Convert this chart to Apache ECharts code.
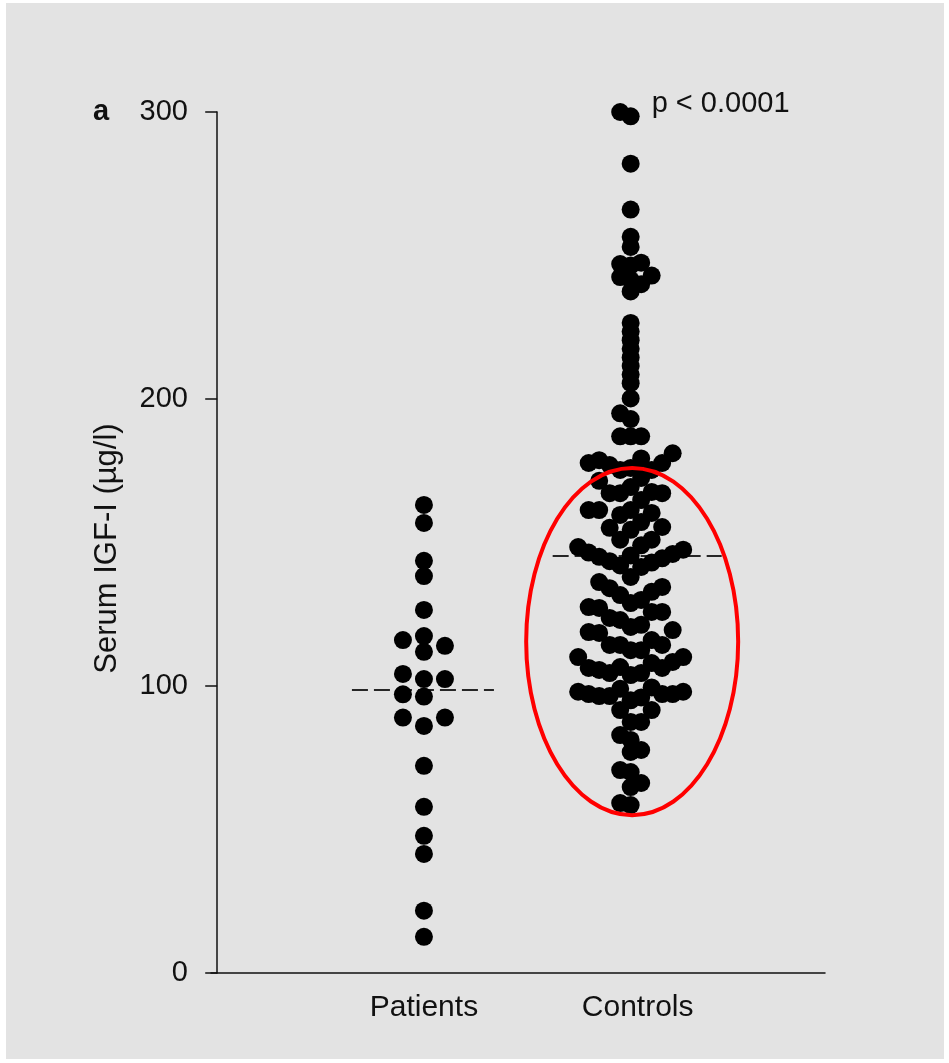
<!DOCTYPE html>
<html>
<head>
<meta charset="utf-8">
<script src="https://cdn.jsdelivr.net/npm/echarts@6.0.0/dist/echarts.min.js"></script>
<style>
  html, body { margin: 0; padding: 0; background: #ffffff; }
  #chart { width: 949px; height: 1063px; }
</style>
</head>
<body>
<div id="chart"></div>
<script>
// ---- data -------------------------------------------------------------
const groups = ['Patients', 'Controls'];
const groupPositions = [1, 2];

// Serum IGF-I, µg/l
const patients = [
  163.1, 156.8, 143.6, 138.3, 126.5, 117.4, 116.0, 114.0, 111.9,
  104.2, 102.4, 102.4, 97.1, 96.3, 89.0, 89.0, 86.1,
  72.2, 57.9, 47.8, 41.5, 21.7, 12.6
];

const controls = [
  300.0, 298.5, 282.0, 266.0, 256.5, 253.0,
  247.5, 247.0, 246.5, 243.0, 242.5, 241.5, 240.0, 237.5,
  226.5, 223.5, 220.5, 217.5, 214.5, 211.5, 208.5, 205.5,
  200.2, 195.0, 193.0, 187.0, 187.0, 187.0,
  181.1, 179.3, 178.7, 177.7, 177.7, 177.0, 176.0, 175.3, 175.3, 172.5, 171.5,
  169.3, 167.6, 167.2, 167.2, 167.2, 164.8,
  161.3, 161.3, 161.3, 160.3, 159.6,
  157.1, 155.4, 155.1, 154.4,
  151.0, 151.0, 149.0, 148.4, 147.5, 146.5, 146.0, 145.5, 145.0, 144.5, 143.5, 143.0, 142.0, 141.5,
  138.0,
  136.2, 134.5, 134.1, 132.8, 131.7, 130.0, 128.9,
  127.5, 127.2, 125.8, 125.8, 123.7, 123.0, 121.3, 120.6, 119.5, 118.8, 118.5,
  116.0, 114.3, 114.3, 114.3, 112.5, 112.5, 110.1, 110.1, 108.4, 108.0,
  106.6, 106.3, 106.3, 105.6, 104.5, 104.5, 103.8,
  99.5, 99.0, 98.0, 98.0,
  97.2, 97.2, 97.2, 96.5, 96.5, 96.0, 95.0,
  91.6, 91.6, 87.5, 87.5, 82.9, 81.2, 77.7, 77.0, 70.7, 70.0, 66.2, 64.8, 59.2, 58.5
];

// group medians drawn as dashed bars
const medians = [98.6, 145.3];

// value band enclosed by the red ring on the control group
const highlightBand = [55, 176];

const yTickValues = [0, 100, 200, 300];
const yTitle = 'Serum IGF-I (µg/l)';
const panelLabel = 'a';
const pValueText = 'p < 0.0001';

// ---- layout ------------------------------------------------------------
const W = 949, H = 1063;
const GRID = { left: 211, right: 124, top: 112, bottom: 90 };
const X_MIN = -0.03, X_MAX = 2.94;
const Y_MIN = 0, Y_MAX = 300, Y_STEP = 100;
const plotW = W - GRID.left - GRID.right;
const plotH = H - GRID.top - GRID.bottom;
const PX_PER_X = plotW / (X_MAX - X_MIN);
const PX_PER_Y = plotH / (Y_MAX - Y_MIN);

const DOT = 18;
const FONT = '"Liberation Sans", Arial, Helvetica, sans-serif';
const INK = '#111111';
const PANEL_BG = '#e3e3e3';
const FRAME = { left: 6, top: 3, right: 5, bottom: 4 };

// swarm settings per group: slot width (px); vertical clearance (px) grows
// with the number of neighbours within +/- window (value units)
const SWARM = [
  { slot: 21, minClear: 15, maxClear: 15, perNeighbour: 0, window: 10 },
  { slot: 10.5, minClear: 8, maxClear: 21, perNeighbour: 1.2, window: 10 }
];
// dashed median bar extents, px left/right of the group centre
const MEDIAN_SPAN = [[-72, 70], [-78, 91]];
// category label nudge, px
const LABEL_NUDGE = [0, 7];

// Lay points out in ascending order; each one takes the slot nearest the
// centre whose column has no point within its vertical clearance.
function swarm(values, cfg) {
  const order = values.map((v, i) => i).sort((a, b) => values[a] - values[b]);
  const placed = [];
  const slots = new Array(values.length);
  let nLeft = 0, nRight = 0;
  for (const i of order) {
    const v = values[i];
    const y = v * PX_PER_Y;
    const neighbours = values.filter(u => Math.abs(u - v) <= cfg.window).length;
    const clear = Math.min(cfg.maxClear, Math.max(cfg.minClear, cfg.perNeighbour * neighbours));
    for (let m = 0; m < 60; m++) {
      const cands = m === 0 ? [0] : (nLeft <= nRight ? [-m, m] : [m, -m]);
      let chosen = null;
      for (const k of cands) {
        const hit = placed.some(p => p.k === k && Math.abs(p.y - y) < clear);
        if (!hit) { chosen = k; break; }
      }
      if (chosen !== null) {
        placed.push({ k: chosen, y });
        slots[i] = chosen;
        if (chosen < 0) nLeft++; else if (chosen > 0) nRight++;
        break;
      }
    }
  }
  return slots.map(k => k * cfg.slot);
}

const seriesValues = [patients, controls];
const dotSeries = seriesValues.map((vals, g) => {
  const offs = swarm(vals, SWARM[g]);
  return {
    name: groups[g],
    type: 'scatter',
    symbol: 'circle',
    symbolSize: DOT,
    z: 3,
    itemStyle: { color: '#000000', opacity: 1 },
    data: vals.map((v, i) => [groupPositions[g] + offs[i] / PX_PER_X, v]),
    silent: true
  };
});

const medianSeries = medians.map((m, g) => ({
  type: 'line',
  z: 2,
  symbol: 'none',
  silent: true,
  lineStyle: { color: '#262626', width: 2, type: [16, 6] },
  data: [
    [groupPositions[g] + MEDIAN_SPAN[g][0] / PX_PER_X, m],
    [groupPositions[g] + MEDIAN_SPAN[g][1] / PX_PER_X, m]
  ]
}));

const labelPositions = groupPositions.map((p, g) => p + LABEL_NUDGE[g] / PX_PER_X);

const chart = echarts.init(document.getElementById('chart'), null, { renderer: 'canvas' });

chart.setOption({
  backgroundColor: 'transparent',
  animation: false,
  grid: {
    left: GRID.left, right: GRID.right, top: GRID.top, bottom: GRID.bottom,
    containLabel: false, outerBoundsMode: 'none'
  },
  xAxis: {
    type: 'value',
    min: X_MIN,
    max: X_MAX,
    splitLine: { show: false },
    axisLine: { show: true, onZero: false, lineStyle: { color: INK, width: 1.5 } },
    axisTick: { show: false },
    axisLabel: {
      show: true,
      customValues: labelPositions,
      formatter: v => {
        let best = 0;
        labelPositions.forEach((p, i) => { if (Math.abs(p - v) < Math.abs(labelPositions[best] - v)) best = i; });
        return groups[best];
      },
      color: INK,
      fontFamily: FONT,
      fontSize: 30,
      margin: 20
    }
  },
  yAxis: {
    type: 'value',
    min: Y_MIN,
    max: Y_MAX,
    interval: Y_STEP,
    splitLine: { show: false },
    axisLine: { show: true, lineStyle: { color: INK, width: 1.5 } },
    axisTick: { show: true, inside: false, length: 12, lineStyle: { color: INK, width: 1.5 } },
    axisLabel: {
      color: INK,
      fontFamily: FONT,
      fontSize: 29,
      margin: 23,
      formatter: v => (yTickValues.indexOf(v) >= 0 ? String(v) : '')
    }
  },
  series: [...medianSeries, ...dotSeries]
});

// annotations: panel backdrop, axis title, panel letter, p-value and the
// red ring round the control cloud
const ringTop = chart.convertToPixel({ gridIndex: 0 }, [groupPositions[1], highlightBand[1]]);
const ringBottom = chart.convertToPixel({ gridIndex: 0 }, [groupPositions[1], highlightBand[0]]);
const topDot = chart.convertToPixel({ gridIndex: 0 }, [groupPositions[1], Math.max(...controls)]);
const yTop = chart.convertToPixel({ yAxisIndex: 0 }, Y_MAX);

chart.setOption({
  graphic: [
    {
      type: 'rect',
      z: -10,
      silent: true,
      shape: {
        x: FRAME.left, y: FRAME.top,
        width: W - FRAME.left - FRAME.right,
        height: H - FRAME.top - FRAME.bottom
      },
      style: { fill: PANEL_BG }
    },
    {
      type: 'text',
      z: 10,
      silent: true,
      x: 107,
      y: GRID.top + plotH / 2 + 6,
      rotation: Math.PI / 2,
      style: {
        text: yTitle,
        fill: INK,
        font: '31px ' + FONT,
        align: 'center',
        verticalAlign: 'middle'
      }
    },
    {
      type: 'ellipse',
      z: 10,
      silent: true,
      shape: {
        cx: ringTop[0] + 1.5,
        cy: (ringTop[1] + ringBottom[1]) / 2,
        rx: 106,
        ry: (ringBottom[1] - ringTop[1]) / 2
      },
      style: { fill: null, stroke: '#ff0000', lineWidth: 4 }
    },
    {
      type: 'text',
      z: 10,
      silent: true,
      x: 93,
      y: yTop,
      style: {
        text: panelLabel,
        fill: INK,
        font: 'bold 29px ' + FONT,
        verticalAlign: 'middle'
      }
    },
    {
      type: 'text',
      z: 10,
      silent: true,
      x: topDot[0] + 21,
      y: topDot[1] - 8,
      style: {
        text: pValueText,
        fill: INK,
        font: '29px ' + FONT,
        verticalAlign: 'middle'
      }
    }
  ]
});
</script>
</body>
</html>
